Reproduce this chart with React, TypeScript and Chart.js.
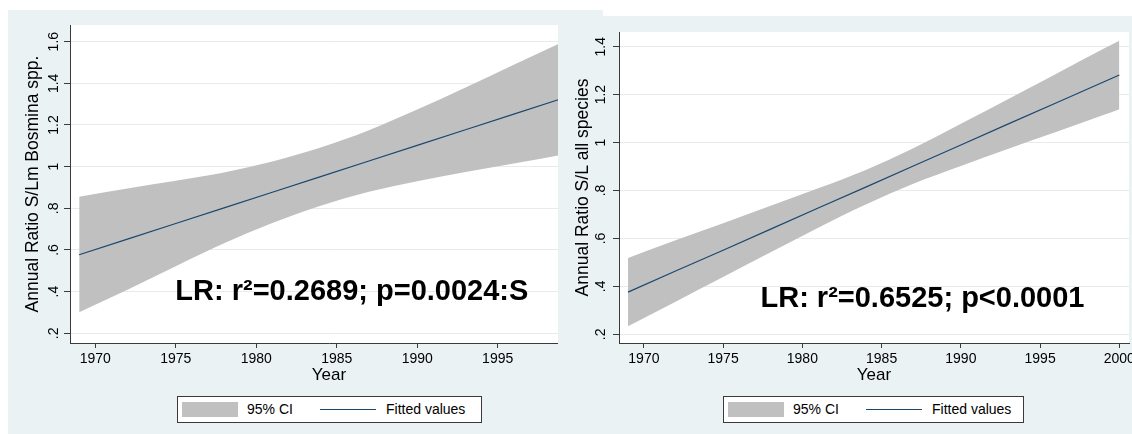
import React, { useEffect, useRef } from "react";
import { Chart, registerables } from "chart.js";

Chart.register(...registerables);

// ---- data ----
const years = [1969, 1972, 1975, 1978, 1981, 1984, 1987, 1990, 1993, 1996, 1999, 2000];

// Left panel: Annual Ratio S/Lm Bosmina spp.
const bosminaFitted = [0.577, 0.652, 0.727, 0.802, 0.877, 0.952, 1.027, 1.102, 1.177, 1.252, 1.327, 1.352];
const bosminaUpper = [0.856, 0.895, 0.932, 0.972, 1.025, 1.092, 1.175, 1.274, 1.38, 1.489, 1.597, 1.632];
const bosminaLower = [0.301, 0.409, 0.522, 0.632, 0.729, 0.812, 0.879, 0.93, 0.974, 1.015, 1.057, 1.072];

// Right panel: Annual Ratio S/L all species
const allFitted = [0.376, 0.464, 0.551, 0.639, 0.727, 0.814, 0.902, 0.99, 1.078, 1.165, 1.253, 1.282];
const allUpper = [0.518, 0.592, 0.663, 0.736, 0.809, 0.886, 0.976, 1.078, 1.182, 1.286, 1.391, 1.425];
const allLower = [0.234, 0.336, 0.439, 0.542, 0.645, 0.742, 0.828, 0.902, 0.974, 1.044, 1.115, 1.139];

const xTickValues = [1970, 1975, 1980, 1985, 1990, 1995, 2000];
const xTickLabels = ["1970", "1975", "1980", "1985", "1990", "1995", "2000"];

const bosminaYTicks = [0.2, 0.4, 0.6, 0.8, 1, 1.2, 1.4, 1.6];
const bosminaYLabels = [".2", ".4", ".6", ".8", "1", "1.2", "1.4", "1.6"];
const allYTicks = [0.2, 0.4, 0.6, 0.8, 1, 1.2, 1.4];
const allYLabels = [".2", ".4", ".6", ".8", "1", "1.2", "1.4"];

const legendLabels = ["95% CI", "Fitted values"];
const bosminaNote = "LR: r\u00B2=0.2689; p=0.0024:S";
const allNote = "LR: r\u00B2=0.6525; p<0.0001";

// ---- styles ----
const BG = "#eaf2f3";
const BAND = "#c0c0c0";
const NAVY = "#1a476f";
const AXIS = "#3a3a3a";
const GRID = "#e4eced";
const FONT = "'Liberation Sans', Arial, Helvetica, sans-serif";

type PanelCfg = {
  fitted: number[];
  upper: number[];
  lower: number[];
  yTicks: number[];
  yLabels: string[];
  yTitle: string;
  yMin: number;
  yMax: number;
  note: string;
  noteX: number;
  noteY: number;
  padTop: number;
  padRight: number;
  yWidth: number;
  xHeight: number;
  yTickPad: number;
  yTitlePad: number;
  yTitleSize: number;
};

function makeConfig(p: PanelCfg): any {
  const plotBg = {
    id: "plotBg",
    beforeDraw(chart: any) {
      const { ctx, chartArea } = chart;
      ctx.save();
      ctx.fillStyle = "#ffffff";
      ctx.fillRect(chartArea.left, chartArea.top, chartArea.right - chartArea.left, chartArea.bottom - chartArea.top);
      ctx.restore();
    },
  };
  const note = {
    id: "note",
    afterDatasetsDraw(chart: any) {
      const { ctx } = chart;
      const xs = chart.scales.x;
      const ys = chart.scales.y;
      ctx.save();
      ctx.font = `bold 29px ${FONT}`;
      ctx.fillStyle = "#000";
      ctx.textAlign = "center";
      ctx.textBaseline = "alphabetic";
      ctx.fillText(p.note, xs.getPixelForValue(p.noteX), ys.getPixelForValue(p.noteY));
      ctx.restore();
    },
  };
  return {
    type: "line",
    data: {
      datasets: [
        {
          label: legendLabels[0],
          data: years.map((x, i) => ({ x, y: p.upper[i] })),
          borderWidth: 0,
          borderColor: BAND,
          backgroundColor: BAND,
          pointRadius: 0,
          fill: "+1",
          cubicInterpolationMode: "monotone",
          order: 2,
        },
        {
          label: "lower",
          data: years.map((x, i) => ({ x, y: p.lower[i] })),
          borderWidth: 0,
          borderColor: BAND,
          pointRadius: 0,
          fill: false,
          cubicInterpolationMode: "monotone",
          order: 1,
        },
        {
          label: legendLabels[1],
          data: years.map((x, i) => ({ x, y: p.fitted[i] })),
          borderWidth: 1.2,
          borderColor: NAVY,
          pointRadius: 0,
          fill: false,
          order: 0,
        },
      ],
    },
    options: {
      animation: false,
      responsive: false,
      events: [],
      layout: { padding: { left: 0, top: p.padTop, right: p.padRight, bottom: 0 } },
      plugins: { legend: { display: false }, tooltip: { enabled: false } },
      scales: {
        x: {
          type: "linear",
          min: 1968.43,
          max: 2000.61,
          afterBuildTicks: (s: any) => {
            s.ticks = xTickValues.map((v) => ({ value: v }));
          },
          afterFit: (s: any) => {
            s.height = p.xHeight;
          },
          ticks: {
            autoSkip: false,
            minRotation: 0,
            maxRotation: 0,
            padding: 3,
            color: "#000",
            font: { family: FONT, size: 14 },
            callback: (v: any) => {
              const i = xTickValues.indexOf(v);
              return i >= 0 ? xTickLabels[i] : "";
            },
          },
          grid: { drawOnChartArea: false, drawTicks: true, tickLength: 5, tickColor: AXIS },
          border: { display: true, color: AXIS, width: 1 },
          title: {
            display: true,
            text: "Year",
            color: "#000",
            font: { family: FONT, size: 17 },
            padding: { top: 0, bottom: 48.8 },
          },
        },
        y: {
          type: "linear",
          min: p.yMin,
          max: p.yMax,
          afterBuildTicks: (s: any) => {
            s.ticks = p.yTicks.map((v) => ({ value: v }));
          },
          afterFit: (s: any) => {
            s.width = p.yWidth;
          },
          ticks: {
            autoSkip: false,
            minRotation: 90,
            maxRotation: 90,
            crossAlign: "center",
            padding: p.yTickPad,
            color: "#000",
            font: { family: FONT, size: 14 },
            callback: (v: any) => {
              const i = p.yTicks.findIndex((t) => Math.abs(t - v) < 1e-9);
              return i >= 0 ? p.yLabels[i] : "";
            },
          },
          grid: { color: GRID, lineWidth: 1, drawTicks: true, tickLength: 6, tickColor: AXIS },
          border: { display: true, color: AXIS, width: 1 },
          title: {
            display: true,
            text: p.yTitle,
            color: "#000",
            font: { family: FONT, size: p.yTitleSize },
            padding: { top: p.yTitlePad, bottom: 0 },
          },
        },
      },
    },
    plugins: [plotBg, note],
  };
}

function Legend({ left, top, width }: { left: number; top: number; width: number }) {
  const text: React.CSSProperties = {
    position: "absolute",
    top: 4,
    fontFamily: FONT,
    fontSize: 14,
    lineHeight: "17px",
    color: "#000",
    whiteSpace: "nowrap",
  };
  return (
    <div
      style={{
        position: "absolute",
        left,
        top,
        width,
        height: 27,
        boxSizing: "border-box",
        border: `1px solid ${AXIS}`,
        background: "#fff",
      }}
    >
      <div style={{ position: "absolute", left: 4, top: 5, width: 56, height: 15, background: BAND }} />
      <div style={{ ...text, left: 69 }}>{legendLabels[0]}</div>
      <div style={{ position: "absolute", left: 142, top: 12, width: 56, height: 1, background: NAVY }} />
      <div style={{ ...text, left: 208 }}>{legendLabels[1]}</div>
    </div>
  );
}

export default function App() {
  const leftRef = useRef<HTMLCanvasElement>(null);
  const rightRef = useRef<HTMLCanvasElement>(null);

  useEffect(() => {
    const left = new Chart(
      leftRef.current as HTMLCanvasElement,
      makeConfig({
        fitted: bosminaFitted,
        upper: bosminaUpper,
        lower: bosminaLower,
        yTicks: bosminaYTicks,
        yLabels: bosminaYLabels,
        yTitle: "Annual Ratio S/Lm Bosmina spp.",
        yMin: 0.1534,
        yMax: 1.68,
        note: bosminaNote,
        noteX: 1985.94,
        noteY: 0.36,
        padTop: 15,
        padRight: 15,
        yWidth: 62,
        xHeight: 91,
        yTickPad: 0.6,
        yTitlePad: 15,
        yTitleSize: 17.5,
      })
    );
    const right = new Chart(
      rightRef.current as HTMLCanvasElement,
      makeConfig({
        fitted: allFitted,
        upper: allUpper,
        lower: allLower,
        yTicks: allYTicks,
        yLabels: allYLabels,
        yTitle: "Annual Ratio S/L all species",
        yMin: 0.1637,
        yMax: 1.4613,
        note: allNote,
        noteX: 1987.58,
        noteY: 0.315,
        padTop: 16,
        padRight: 49,
        yWidth: 61,
        xHeight: 91,
        yTickPad: 2.5,
        yTitlePad: 14.5,
        yTitleSize: 17.5,
      })
    );
    return () => {
      left.destroy();
      right.destroy();
    };
  }, []);

  return (
    <div
      style={{
        position: "fixed",
        left: 0,
        top: 0,
        width: 1132,
        height: 434,
        overflow: "hidden",
        background: "#fff",
      }}
    >
      <canvas
        ref={leftRef}
        width={595}
        height={424}
        style={{ position: "absolute", left: 8, top: 10, width: 595, height: 424, background: BG, display: "block" }}
      />
      <Legend left={177} top={396} width={305} />
      <canvas
        ref={rightRef}
        width={620}
        height={418}
        style={{ position: "absolute", left: 558, top: 16, width: 620, height: 418, background: BG, display: "block" }}
      />
      <Legend left={723} top={396} width={301} />
    </div>
  );
}
